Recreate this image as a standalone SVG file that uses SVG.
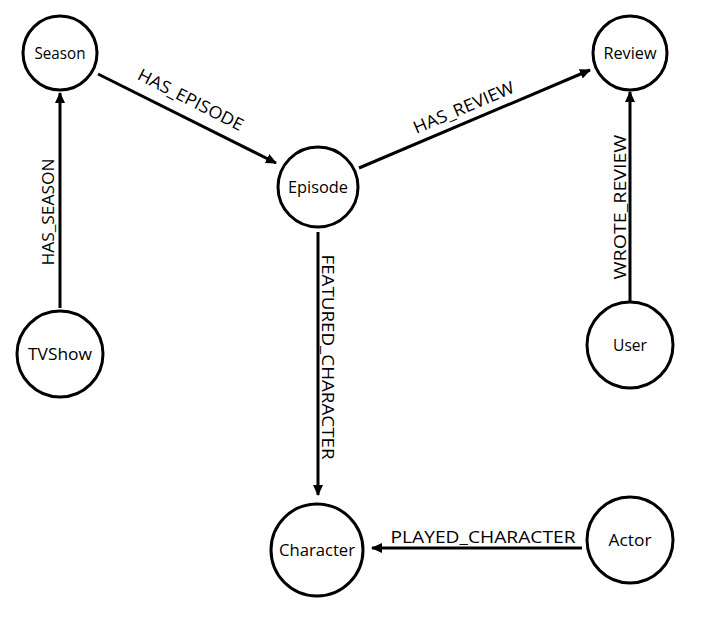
<svg xmlns="http://www.w3.org/2000/svg" width="703" height="618" viewBox="0 0 703 618">
<defs>
<marker id="arr" markerWidth="12" markerHeight="12" refX="10" refY="5" orient="auto" markerUnits="userSpaceOnUse">
<path d="M0,0 L11,5 L0,10 Z" fill="#000"/>
</marker>
<style>
.node circle{fill:#fff;stroke:#000;stroke-width:3}
.node text{font-family:"Open Sans","DejaVu Sans",sans-serif;font-size:15.5px;fill:#000;text-anchor:middle;dominant-baseline:central}
.edge line{stroke:#000;stroke-width:3;marker-end:url(#arr)}
.edge text{font-family:"Open Sans","DejaVu Sans",sans-serif;font-size:17px;fill:#000;text-anchor:middle}
</style>
</defs>
<rect width="703" height="618" fill="#fff"/>
<g id="edges">
<g class="edge" id="e-has-season"><line x1="60" y1="308" x2="60" y2="93"/><text transform="translate(54,212) rotate(-90)" textLength="107" lengthAdjust="spacingAndGlyphs">HAS_SEASON</text></g>
<g class="edge" id="e-has-episode"><line x1="98" y1="74" x2="276" y2="163"/><text transform="translate(188,105) rotate(27)" textLength="116" lengthAdjust="spacingAndGlyphs">HAS_EPISODE</text></g>
<g class="edge" id="e-has-review"><line x1="359" y1="168" x2="590" y2="70"/><text transform="translate(466,113) rotate(-23)" textLength="108" lengthAdjust="spacingAndGlyphs">HAS_REVIEW</text></g>
<g class="edge" id="e-wrote-review"><line x1="630" y1="303" x2="630" y2="92"/><text transform="translate(626,207) rotate(-90)" textLength="145" lengthAdjust="spacingAndGlyphs">WROTE_REVIEW</text></g>
<g class="edge" id="e-featured"><line x1="318" y1="232" x2="318" y2="495"/><text transform="translate(322,357) rotate(90)" textLength="205" lengthAdjust="spacingAndGlyphs">FEATURED_CHARACTER</text></g>
<g class="edge" id="e-played"><line x1="582" y1="548" x2="372" y2="548"/><text x="483" y="543" textLength="185" lengthAdjust="spacingAndGlyphs">PLAYED_CHARACTER</text></g>
</g>
<g class="node" id="n-season"><circle cx="60" cy="53" r="37"/><text x="60" y="53" textLength="51" lengthAdjust="spacingAndGlyphs">Season</text></g>
<g class="node" id="n-review"><circle cx="630" cy="53" r="37"/><text x="630" y="53" textLength="53" lengthAdjust="spacingAndGlyphs">Review</text></g>
<g class="node" id="n-episode"><circle cx="318" cy="187" r="40"/><text x="318" y="187" textLength="60" lengthAdjust="spacingAndGlyphs">Episode</text></g>
<g class="node" id="n-tvshow"><circle cx="60" cy="354" r="43"/><text x="60" y="354" textLength="64" lengthAdjust="spacingAndGlyphs">TVShow</text></g>
<g class="node" id="n-user"><circle cx="630" cy="345" r="43"/><text x="630" y="345" textLength="34" lengthAdjust="spacingAndGlyphs">User</text></g>
<g class="node" id="n-character"><circle cx="317" cy="550" r="46"/><text x="317" y="550" textLength="76" lengthAdjust="spacingAndGlyphs">Character</text></g>
<g class="node" id="n-actor"><circle cx="630" cy="540" r="43"/><text x="630" y="540" textLength="43" lengthAdjust="spacingAndGlyphs">Actor</text></g>
</svg>
